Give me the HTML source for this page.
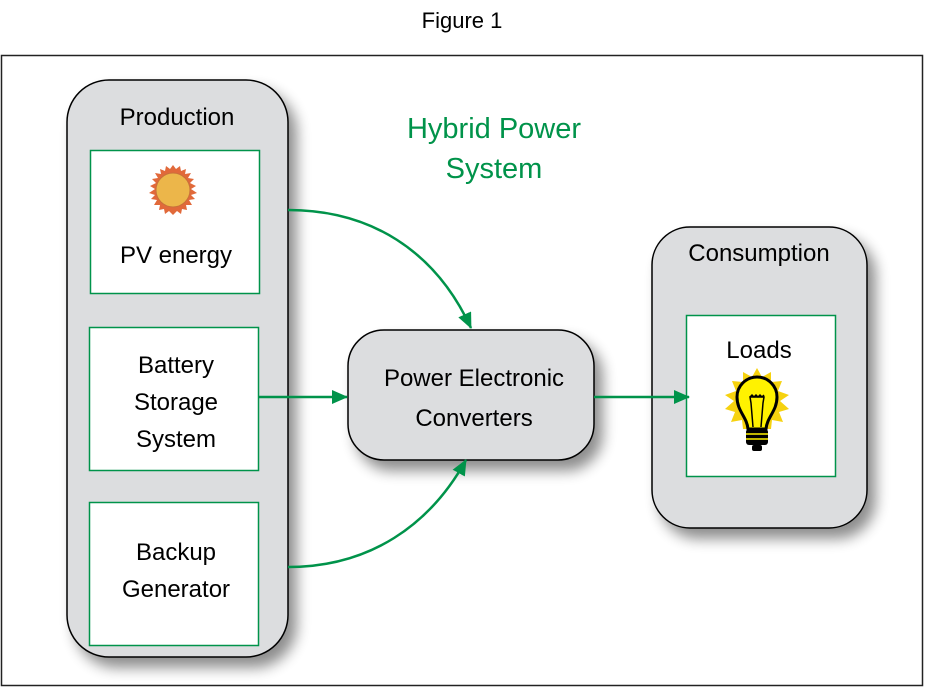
<!DOCTYPE html>
<html><head><meta charset="utf-8"><style>
html,body{margin:0;padding:0;background:#fff;}
svg{display:block;}
text{font-family:"Liberation Sans",sans-serif;}
</style></head><body>
<svg width="925" height="694" viewBox="0 0 925 694" xmlns="http://www.w3.org/2000/svg">
<defs>
<filter id="sh" x="-30%" y="-30%" width="160%" height="160%">
<feGaussianBlur in="SourceAlpha" stdDeviation="7"/>
<feOffset dx="8" dy="10" result="b"/>
<feComponentTransfer><feFuncA type="linear" slope="0.45"/></feComponentTransfer>
<feMerge><feMergeNode/><feMergeNode in="SourceGraphic"/></feMerge>
</filter>
<marker id="ar" markerWidth="16" markerHeight="14" refX="15" refY="7" orient="auto" markerUnits="userSpaceOnUse" viewBox="0 0 16 14">
<path d="M0,0 L16,7 L0,14 z" fill="#00934a"/>
</marker>
</defs>
<text x="462" y="28" font-size="22" text-anchor="middle" fill="#000">Figure 1</text>
<rect x="1.5" y="55.5" width="921" height="630" fill="#fff" stroke="#222" stroke-width="1.5"/>
<rect x="67" y="80" width="221" height="577" rx="42" fill="#dcdddf" stroke="#000" stroke-width="1.5" filter="url(#sh)"/>
<rect x="652" y="227" width="215" height="301" rx="38" fill="#dcdddf" stroke="#000" stroke-width="1.5" filter="url(#sh)"/>
<rect x="348" y="330" width="246" height="130" rx="36" fill="#dcdddf" stroke="#000" stroke-width="1.5" filter="url(#sh)"/>
<text x="177" y="125" font-size="24" text-anchor="middle">Production</text>
<rect x="90.5" y="150.5" width="169" height="143" fill="#fff" stroke="#00934a" stroke-width="1.5"/>
<rect x="89.5" y="327.5" width="169" height="143" fill="#fff" stroke="#00934a" stroke-width="1.5"/>
<rect x="89.5" y="502.5" width="169" height="143" fill="#fff" stroke="#00934a" stroke-width="1.5"/>
<g transform="translate(173,190)">
<polygon fill="#e1693a" points="0,-25 3,-21 7,-24 8,-19 13,-21 12,-16 18,-17 15,-12 21,-11 17,-7 23,-4 18,-1 24,3 18,5 22,9 16,10 19,15 13,15 14,20 9,19 8,24 4,21 0,25 -4,21 -8,24 -9,19 -14,20 -13,15 -19,15 -16,10 -22,9 -18,5 -24,3 -18,-1 -23,-4 -17,-7 -21,-11 -15,-12 -18,-17 -12,-16 -13,-21 -8,-19 -7,-24 -3,-21"/>
<circle r="17" fill="#ecb64a" stroke="#c8703a" stroke-width="1"/>
</g>
<text x="176" y="263" font-size="24" text-anchor="middle">PV energy</text>
<text x="176" y="373" font-size="24" text-anchor="middle">Battery</text>
<text x="176" y="410" font-size="24" text-anchor="middle">Storage</text>
<text x="176" y="447" font-size="24" text-anchor="middle">System</text>
<text x="176" y="560" font-size="24" text-anchor="middle">Backup</text>
<text x="176" y="597" font-size="24" text-anchor="middle">Generator</text>
<text x="494" y="138" font-size="29" text-anchor="middle" fill="#00934a">Hybrid Power</text>
<text x="494" y="178" font-size="29" text-anchor="middle" fill="#00934a">System</text>
<text x="474" y="386" font-size="24" text-anchor="middle">Power Electronic</text>
<text x="474" y="426" font-size="24" text-anchor="middle">Converters</text>
<text x="759" y="261" font-size="24" text-anchor="middle">Consumption</text>
<rect x="686.5" y="315.5" width="149" height="161" fill="#fff" stroke="#00934a" stroke-width="1.5"/>
<text x="759" y="358" font-size="24" text-anchor="middle">Loads</text>
<g transform="translate(757,401)">
<polygon fill="#f6d20f" points="0,-33 5,-24 14,-29 14,-19 25,-20 21,-10 32,-6 23,0 32,8 22,11 26,21 15,19 14,28 -14,28 -15,19 -26,21 -22,11 -32,8 -23,0 -32,-6 -21,-10 -25,-20 -14,-19 -14,-29 -5,-24"/>
<path d="M-9,28 C-10,16 -20,10 -20,-4 A20,20 0 0 1 20,-4 C20,10 10,16 9,28 Z" fill="#fff200" stroke="#000" stroke-width="3"/>
<path d="M-4,26 L-6,2 L-7,-4 L7,-4 L6,2 L4,26 M-7,-4 l2,-2 l2,2 l2,-2 l2,2 l2,-2 l2,2 l2,-2" fill="none" stroke="#000" stroke-width="1.5"/>
<rect x="-11" y="28" width="22" height="16" rx="3" fill="#000"/>
<path d="M-11,33 H11 M-11,38 H11" stroke="#fff200" stroke-width="1.5"/>
<rect x="-5" y="44" width="10" height="6" rx="2" fill="#000"/>
</g>
<g fill="none" stroke="#00934a" stroke-width="2.5">
<path d="M288,210 C370,210 435,250 471,328" marker-end="url(#ar)"/>
<path d="M259,397 L347,397" marker-end="url(#ar)"/>
<path d="M288,567 C370,567 430,525 466,460" marker-end="url(#ar)"/>
<path d="M594,397 L689,397" marker-end="url(#ar)"/>
</g>
</svg>
</body></html>
